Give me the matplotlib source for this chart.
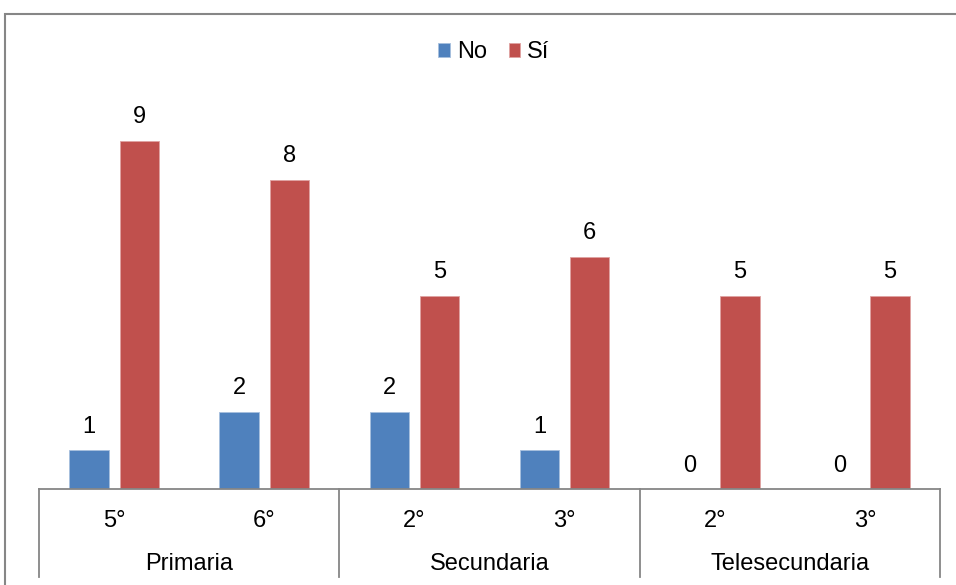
import matplotlib.pyplot as plt
import numpy as np
from matplotlib.lines import Line2D
from matplotlib.patches import Rectangle

# --- DATA ---
grados = ["5°", "6°", "2°", "3°", "2°", "3°"]
niveles = ["Primaria", "Secundaria", "Telesecundaria"]
grados_por_nivel = [2, 2, 2]
no_vals = [1, 2, 2, 1, 0, 0]
si_vals = [9, 8, 5, 6, 5, 5]

BLUE = "#4F81BD"
RED = "#C0504D"
GRAY = "#868686"

plt.rcParams['font.family'] = ['Liberation Sans', 'DejaVu Sans']

W, H = 956, 585
fig = plt.figure(figsize=(W / 100, H / 100), dpi=100)

# outer chart frame (cropped on right and bottom)
fig.add_artist(Rectangle((5 / W, -0.1), 1.1, (H - 14) / H + 0.1, transform=fig.transFigure,
                         fill=False, edgecolor=GRAY, linewidth=1.5))

# plot area in pixels
left, right, bottom, top = 39, 940, 489, 60
ax = fig.add_axes([left / W, (H - bottom) / H, (right - left) / W, (bottom - top) / H])
unit_px = 38.67
ax.set_ylim(0, (bottom - top) / unit_px)

n = len(grados)
x = np.arange(n)
ax.set_xlim(-0.5, n - 0.5)
bw = 0.262
off = 0.168

b1 = ax.bar(x - off, no_vals, bw, color=BLUE, label="No", edgecolor="#A7BFDE", linewidth=0.6)
b2 = ax.bar(x + off, si_vals, bw, color=RED, label="Sí", edgecolor="#E0A3A2", linewidth=0.6)

for bars, vals in [(b1, no_vals), (b2, si_vals)]:
    for rect, v in zip(bars, vals):
        ax.annotate(str(v), (rect.get_x() + rect.get_width() / 2, v), xytext=(0, 9),
                    textcoords="offset points", ha="center", va="bottom", fontsize=17,
                    clip_on=False)

for s in ax.spines.values():
    s.set_visible(False)
ax.set_xticks([])
ax.set_yticks([])

# x axis line and two-level category labels
trans = ax.get_xaxis_transform()
ax.add_line(Line2D([-0.5, n - 0.5], [0, 0], transform=trans, color=GRAY, linewidth=1.3, clip_on=False))
ax_h = bottom - top
sep_bottom = -(577 - bottom) / ax_h
pos = -0.5
edges = [pos]
for cnt in grados_por_nivel:
    pos += cnt
    edges.append(pos)
for e in edges:
    ax.add_line(Line2D([e, e], [0, sep_bottom], transform=trans, color=GRAY, linewidth=1.3, clip_on=False))

y_grado = -(521 - bottom) / ax_h
y_nivel = -(564 - bottom) / ax_h
for i, g in enumerate(grados):
    ax.text(i, y_grado, g, transform=trans, ha="center", va="center", fontsize=17)
for k, nv in enumerate(niveles):
    ax.text((edges[k] + edges[k + 1]) / 2, y_nivel, nv, transform=trans, ha="center", va="center", fontsize=17)

fig.legend(handles=[b1, b2], labels=["No", "Sí"], loc="center", bbox_to_anchor=(494 / W, (H - 52) / H),
           ncol=2, frameon=False, fontsize=17, handlelength=0.5, handleheight=0.55,
           handletextpad=0.3, columnspacing=0.9)

fig.savefig("out.png", dpi=100)
